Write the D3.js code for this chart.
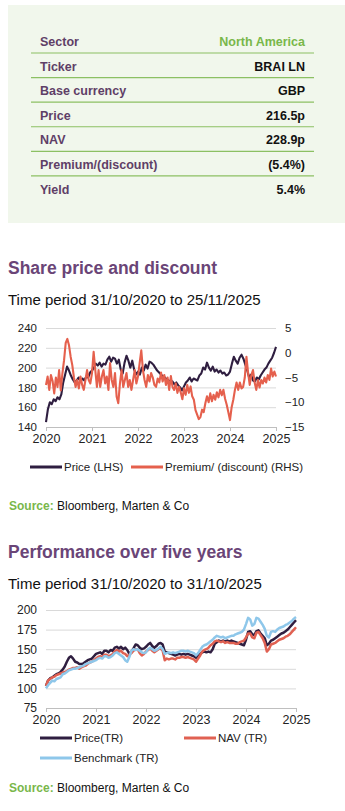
<!DOCTYPE html>
<html><head><meta charset="utf-8">
<script src="https://cdn.jsdelivr.net/npm/d3@7"></script>
<style>
body{margin:0;background:#fff;}
svg{display:block;font-family:"Liberation Sans",Arial,sans-serif;}
</style></head>
<body>
<svg id="c" width="345" height="811"></svg>
<script>
// ---------- DATA ----------
const tableLabels = ["Sector","Ticker","Base currency","Price","NAV","Premium/(discount)","Yield"];
const tableValues = ["North America","BRAI LN","GBP","216.5p","228.9p","(5.4%)","5.4%"];

const yearLabels = ["2020","2021","2022","2023","2024","2025"];
const leftTicks1 = [140,160,180,200,220,240];
const rightTicks1 = [-15,-10,-5,0,5];
const ticks2 = [75,100,125,150,175,200];

// Share price (LHS), pence, every ~half month from 31/10/2020
const sharePrice = [145,158,165,163,168,166,170,168,173,185,193,201,197,192,188,185,187,190,186,189,187,191,190,195,
197,200,204,202,205,201,204,203,208,211,206,210,209,204,208,198,194,205,212,207,200,207,198,193,
196,193,200,197,203,199,206,205,203,200,197,195,193,191,190,188,187,185,186,183,185,182,180,177,
181,185,187,190,186,189,188,187,192,194,200,198,205,200,197,201,196,198,195,197,194,195,192,193,
196,204,211,207,204,210,213,209,203,197,190,193,187,186,190,188,192,195,198,200,204,207,210,215,221];

// Premium/(discount) (RHS), %
const premium = [-6.5,-4.8,-7.5,-4.5,-5.7,-8.2,-5.0,-6.9,-3.5,-7.6,-4.1,-1.5,2.0,2.8,1.5,-0.8,-2.5,-5.0,-6.9,-5.5,-7.2,-4.8,-6.5,-7.5,-5.5,-3.5,-5.5,-6.2,
-4.1,0.2,-3.5,-6.9,-3.5,-6.9,-4.8,-3.5,-6.2,-4.8,-7.5,-2.1,-5.5,-6.9,-4.1,-8.9,-10.2,-6.2,-3.5,-6.9,-5.5,-4.1,-6.9,-5.5,-7.5,-5.5,-3.5,-6.2,
-4.8,-2.1,0.5,-3.5,-5.5,-6.9,-4.5,-5.8,-4.1,-5.0,-6.5,-6.9,-5.2,-6.0,-4.0,-5.8,-4.5,-6.5,-5.0,-7.5,-4.7,-6.9,-7.5,-6.2,-8.1,-6.9,-8.0,-9.4,
-7.2,-8.5,-6.5,-8.1,-6.8,-8.8,-9.5,-11.6,-12.5,-13.4,-13.0,-11.5,-12.0,-10.2,-8.8,-10.0,-8.2,-9.8,-8.5,-9.5,-8.0,-9.0,-7.5,-8.6,-7.5,-9.3,-10.5,-12.0,
-13.6,-11.0,-9.5,-7.5,-6.0,-7.5,-6.0,-7.2,-6.9,-5.0,-0.8,-4.0,-6.5,-4.5,-3.5,-6.0,-7.5,-5.5,-7.0,-5.5,-6.2,-5.0,-6.0,-4.5,-5.5,-3.2,-4.8,-3.8,-4.8];

// Performance (rebased to 100), every ~half month from 31/10/2020
const priceTR = [103,110,113,114,116,118,119,121,124,128,134,139,141,138,134,133,131,131,132,134,136,137,138,141,
144,145,146,144,148,148,146,149,148,152,153,151,153,150,152,149,144,147,151,156,155,152,150,151,
153,156,158,154,152,154,157,158,156,147,146,145,144,143,142,143,144,143,144,143,144,143,142,141,
139,142,144,146,147,146,147,146,150,157,159,161,160,161,160,161,160,161,160,159,158,157,156,155,
162,172,173,169,168,173,174,170,167,164,155,157,161,162,164,166,168,170,171,173,175,178,181,184,187];
const navTR = [103,110,112,114,115,117,118,119,120,121,122,124,125,126,126,127,125,127,128,129,131,133,134,136,
138,140,141,140,143,143,141,142,144,147,149,147,148,145,144,141,143,145,148,150,150,145,142,144,
147,149,151,148,146,148,150,151,148,136,138,137,138,138,137,139,139,140,140,139,140,139,138,137,
134,138,142,147,149,150,152,155,157,160,161,160,159,160,158,159,158,158,158,157,157,159,160,161,
165,170,170,165,164,171,172,168,164,158,147,150,156,157,158,160,162,163,164,166,167,169,172,175,178];
const benchTR = [100,104,107,110,109,112,113,114,118,119,121,123,124,125,125,126,127,128,129,131,132,133,134,135,
136,138,139,138,141,141,139,140,142,145,146,144,142,140,136,134,140,148,150,149,150,148,146,145,
146,150,152,150,148,149,151,153,150,144,145,146,145,146,145,146,147,148,148,147,148,147,146,145,
142,145,149,153,155,156,158,160,162,165,167,166,165,166,164,165,166,167,167,169,170,171,172,175,
182,190,188,180,182,190,189,185,181,176,167,165,172,173,172,175,177,178,179,181,182,184,186,189,191];

// ---------- STYLE ----------
const C = {
  panel:"#f1f7ec", rule:"#8cc063", label:"#5f3f67", green:"#79b74a",
  title:"#6a4577", grid:"#d9d9d9", axis:"#bfbfbf",
  dark:"#2f1e40", orange:"#e5604d", red:"#e06152", blue:"#8ec7ea"
};

const svg = d3.select("#c");

// ---------- TABLE PANEL ----------
svg.append("rect").attr("x",8).attr("y",5).attr("width",337).attr("height",218).attr("fill",C.panel);
const rowY = d3.scaleLinear().domain([0,6]).range([46,193.5]);
tableLabels.forEach((lab,i)=>{
  const y = rowY(i);
  svg.append("text").attr("x",40).attr("y",y).attr("font-size",12.5).attr("font-weight","bold")
     .attr("fill",C.label).text(lab);
  svg.append("text").attr("x",305).attr("y",y).attr("text-anchor","end").attr("font-size",12.5)
     .attr("font-weight","bold")
     .attr("fill",i===0?C.green:"#111").text(tableValues[i]);
  if(i<6){
    const ly = rowY(i)+7;
    svg.append("line").attr("x1",31).attr("x2",314).attr("y1",ly).attr("y2",ly)
       .attr("stroke",C.rule).attr("stroke-width",1.2);
  }
});

// ---------- helpers ----------
function titleBlock(y, title, sub){
  svg.append("text").attr("x",8).attr("y",y).attr("font-size",17.5).attr("font-weight","bold")
     .attr("fill",C.title).text(title);
  svg.append("text").attr("x",8).attr("y",y+31).attr("font-size",15).attr("fill","#111").text(sub);
}
function source(y){
  const t = svg.append("text").attr("x",9).attr("y",y).attr("font-size",12);
  t.append("tspan").attr("font-weight","bold").attr("fill",C.green).text("Source:");
  t.append("tspan").attr("fill","#111").text(" Bloomberg, Marten & Co");
}
function legendItem(x,y,color,label){
  svg.append("line").attr("x1",x).attr("x2",x+32).attr("y1",y).attr("y2",y)
     .attr("stroke",color).attr("stroke-width",3);
  svg.append("text").attr("x",x+34).attr("y",y+4).attr("font-size",11.5).attr("fill","#222").text(label);
}

// ---------- CHART 1 ----------
titleBlock(274,"Share price and discount","Time period 31/10/2020 to 25/11/2025");
const x1 = d3.scaleLinear().domain([0,5]).range([46,276]);
const yL = d3.scaleLinear().domain([140,240]).range([427,328]);
const yR = d3.scaleLinear().domain([-15,5]).range([427,328]);

const g1 = svg.append("g");
g1.append("g").attr("transform","translate(46,0)")
  .call(d3.axisLeft(yL).tickValues(leftTicks1).tickSize(-230).tickFormat(d3.format("d")))
  .call(g=>{g.select(".domain").remove();
    g.selectAll("line").attr("stroke",C.grid);
    g.selectAll("text").attr("x",-9).attr("font-size",11.5).attr("fill","#222").attr("font-family","Liberation Sans, Arial");});
g1.append("g").attr("transform","translate(276,0)")
  .call(d3.axisRight(yR).tickValues(rightTicks1).tickSize(0).tickFormat(d3.format("d")))
  .call(g=>{g.select(".domain").remove();
    g.selectAll("text").attr("x",9).attr("font-size",11.5).attr("fill","#222").attr("font-family","Liberation Sans, Arial");});

const pStep = 5/(sharePrice.length-1);
const qStep = 5/(premium.length-1);
g1.append("path").datum(sharePrice)
  .attr("d",d3.line().x((d,i)=>x1(i*pStep)).y(d=>yL(d)))
  .attr("fill","none").attr("stroke",C.dark).attr("stroke-width",2.1).attr("stroke-linejoin","round");
g1.append("path").datum(premium)
  .attr("d",d3.line().x((d,i)=>x1(i*qStep)).y(d=>yR(d)))
  .attr("fill","none").attr("stroke",C.orange).attr("stroke-width",2.1).attr("stroke-linejoin","round");

g1.append("g").attr("transform","translate(0,427)")
  .call(d3.axisBottom(x1).tickValues([0,1,2,3,4,5]).tickSize(4).tickPadding(3).tickFormat(i=>yearLabels[i]))
  .call(g=>{g.select(".domain").attr("stroke",C.axis);
    g.selectAll("line").attr("stroke",C.axis);
    g.selectAll("text").attr("font-size",12.5).attr("fill","#222").attr("font-family","Liberation Sans, Arial");});

legendItem(30,467,C.dark,"Price (LHS)");
legendItem(131,467,C.orange,"Premium/ (discount) (RHS)");
source(510);

// ---------- CHART 2 ----------
titleBlock(558,"Performance over five years","Time period 31/10/2020 to 31/10/2025");
const x2 = d3.scaleLinear().domain([0,5]).range([46,296]);
const y2 = d3.scaleLinear().domain([75,200]).range([708,610]);
const g2 = svg.append("g");
g2.append("g").attr("transform","translate(46,0)")
  .call(d3.axisLeft(y2).tickValues(ticks2).tickSize(-250).tickFormat(d3.format("d")))
  .call(g=>{g.select(".domain").remove();
    g.selectAll("line").attr("stroke",C.grid);
    g.selectAll("text").attr("x",-9).attr("font-size",12).attr("fill","#222").attr("font-family","Liberation Sans, Arial");});
const s2 = 5/(priceTR.length-1);
[[priceTR,C.dark],[navTR,C.red],[benchTR,C.blue]].forEach(([arr,col])=>{
  g2.append("path").datum(arr)
    .attr("d",d3.line().x((d,i)=>x2(i*s2)).y(d=>y2(d)))
    .attr("fill","none").attr("stroke",col).attr("stroke-width",2.5).attr("stroke-linejoin","round");
});
g2.append("g").attr("transform","translate(0,708)")
  .call(d3.axisBottom(x2).tickValues([0,1,2,3,4,5]).tickSize(4).tickPadding(3).tickFormat(i=>yearLabels[i]))
  .call(g=>{g.select(".domain").attr("stroke",C.axis);
    g.selectAll("line").attr("stroke",C.axis);
    g.selectAll("text").attr("font-size",12.5).attr("fill","#222").attr("font-family","Liberation Sans, Arial");});

legendItem(40,738,C.dark,"Price(TR)");
legendItem(184,738,C.red,"NAV (TR)");
legendItem(40,758,C.blue,"Benchmark (TR)");
source(792);
</script>
</body></html>
